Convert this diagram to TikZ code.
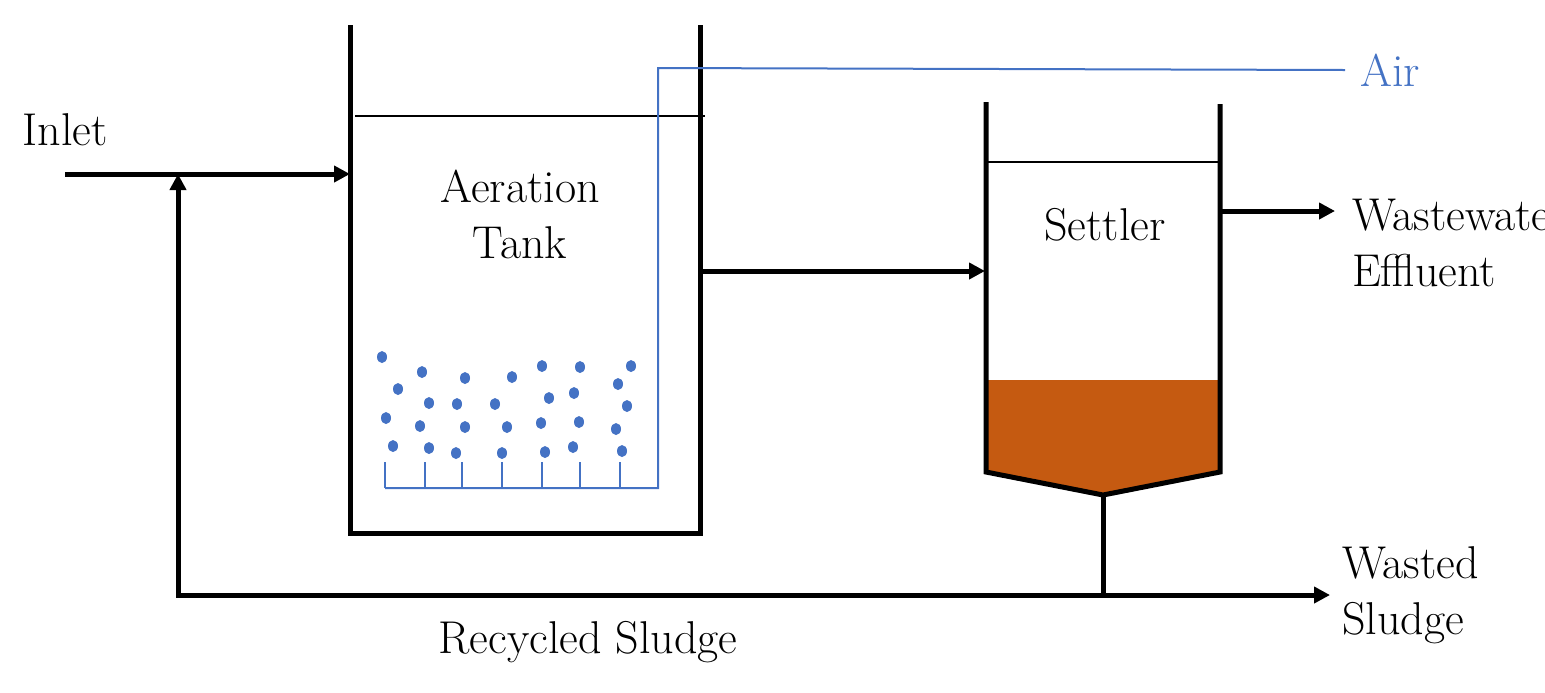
\documentclass[tikz,border=0pt]{standalone}
\usetikzlibrary{arrows.meta}
\definecolor{airblue}{RGB}{68,114,196}
\definecolor{sludge}{RGB}{197,90,17}
\begin{document}
\begin{tikzpicture}[x=0.5pt,y=0.5pt,yscale=-1,
  wall/.style={line width=2.5pt},
  flow/.style={line width=2.5pt,-{Triangle[length=8pt,width=8pt]}},
  lbl/.style={font=\fontsize{23}{28}\selectfont,align=left}]
\useasboundingbox (0,0) rectangle (1545,692);
%aeration tank
\draw [wall] (350,25) -- (350,533) -- (700,533) -- (700,25);
\draw [line width=1pt] (355,116) -- (705,116);
\node [lbl,align=center] (aer) at (520,214) {Aeration\\Tank};
%air supply and diffuser
\draw [airblue,line width=1pt] (385,488) -- (658,488) -- (658,68) -- (1345,70);
\node [lbl,text=airblue] (air) at (1390,70) {Air};
\foreach \x in {385,425,462,502,542,580,620}
  \draw [airblue,line width=1pt] (\x,488) -- (\x,462);
\foreach \x/\y in {382/357,422/372,465/378,512/377,542/366,580/367,631/366,398/389,549/398,574/393,618/384,429/403,457/404,495/404,627/406,386/418,420/426,465/427,507/427,541/423,579/422,616/429,393/446,429/448,456/453,502/453,545/452,573/447,622/451}
  \fill [airblue] (\x,\y) ellipse (5 and 6);
%settler
\fill [sludge] (986,380) -- (1220,380) -- (1220,472) -- (1103,495) -- (986,472) -- cycle;
\draw [wall] (986,102) -- (986,472) -- (1103,495) -- (1220,472) -- (1220,104);
\draw [line width=1pt] (986,162) -- (1220,162);
\node [lbl] (set) at (1105,225) {Settler};
%flows
\node [lbl] (inlet) at (65,130) {Inlet};
\coordinate (in0) at (65,174);
\coordinate (in1) at (350,174);
\draw [flow] (in0) -- (in1);
\coordinate (t0) at (700,271);
\coordinate (t1) at (985,271);
\draw [flow] (t0) -- (t1);
\coordinate (e0) at (1220,211);
\coordinate (e1) at (1335,211);
\draw [flow] (e0) -- (e1);
\node [lbl,anchor=west] (eff) at (1345,243) {Wastewater\\Effluent};
\coordinate (cone) at (1103,495);
\coordinate (j) at (1103,595);
\coordinate (w1) at (1330,595);
\coordinate (r0) at (178,595);
\coordinate (r1) at (178,174);
\draw [wall] (cone) -- (j);
\draw [flow] (j) -- (w1);
\draw [flow] (j) -- (r0) -- (r1);
\node [lbl,anchor=west] (was) at (1335,595) {Wasted\\Sludge};
\node [lbl] (rec) at (588,642) {Recycled Sludge};
\end{tikzpicture}
\end{document}
